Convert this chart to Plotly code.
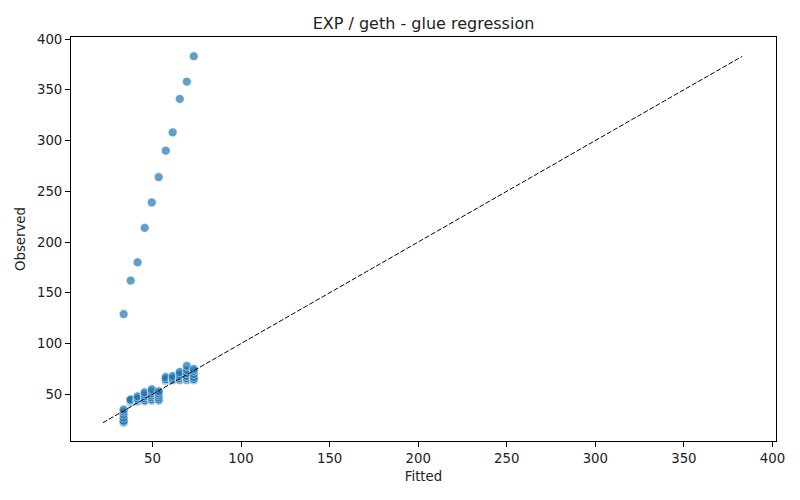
"""
fitted vs observed scatter for the glue regression
"""
import plotly.graph_objects as go

# fitted value levels (one per column of points)
fitted_levels = [33.7, 37.7, 41.6, 45.6, 49.6, 53.5, 57.5, 61.4, 65.4, 69.4, 73.3]

# observed values for each fitted level
outlier_obs = [129, 162, 180, 214, 239, 264, 290, 308, 341, 358, 383]
cluster_obs = [
    [22, 23, 23, 23, 24, 27, 30, 33, 35],
    [42, 43, 44, 44, 44, 45],
    [43, 43, 44, 44, 45, 46, 48],
    [43, 44, 44, 44, 46, 48, 50, 52],
    [44, 44, 45, 45, 47, 49, 51, 53, 55],
    [44, 44, 45, 45, 47, 49, 51, 53],
    [63, 64, 64, 65, 65, 67],
    [64, 64, 65, 66, 68],
    [64, 64, 65, 66, 68, 70, 72],
    [64, 64, 65, 66, 68, 71, 74, 78],
    [64, 64, 65, 65, 67, 70, 73, 75],
]

x_ticks = [50, 100, 150, 200, 250, 300, 350, 400]
y_ticks = [50, 100, 150, 200, 250, 300, 350, 400]

fitted, observed = [], []
for lvl, obs in zip(fitted_levels, cluster_obs):
    for o in obs:
        fitted.append(lvl)
        observed.append(o)
for lvl, o in zip(fitted_levels, outlier_obs):
    fitted.append(lvl)
    observed.append(o)

lo = min(min(fitted), min(observed))
hi = max(max(fitted), max(observed))

font = "DejaVu Sans"

fig = go.Figure()
fig.add_trace(go.Scatter(
    x=fitted, y=observed, mode="markers",
    marker=dict(color="#1f77b4", opacity=0.7, size=9,
                line=dict(color="white", width=0.7)),
    showlegend=False,
))
fig.add_trace(go.Scatter(
    x=[lo, hi], y=[lo, hi], mode="lines",
    line=dict(color="black", width=1, dash="5px,2px"),
    showlegend=False,
))

axis_style = dict(showgrid=False, zeroline=False, showline=True, mirror=True,
                  linecolor="black", linewidth=1, ticks="outside", ticklen=5,
                  tickcolor="black", automargin=False,
                  tickfont=dict(size=13.3, color="#222"),
                  title_font=dict(size=13.3, color="#222"))
# the page body adds an 8px offset, margins below account for it
fig.update_layout(
    width=800, height=500,
    margin=dict(l=63, r=32, t=29, b=67),
    paper_bgcolor="white", plot_bgcolor="white",
    font=dict(family=font),
    title=dict(text="EXP / geth - glue regression", xref="paper", x=0.5,
               xanchor="center", y=1 - 15 / 500, yanchor="middle",
               automargin=False, font=dict(size=16, color="#222")),
    xaxis=dict(axis_style, range=[4, 402], tickvals=x_ticks,
               title=dict(text="Fitted", standoff=6)),
    yaxis=dict(axis_style, range=[4, 402], tickvals=y_ticks,
               title=dict(text="Observed", standoff=8)),
)

fig.write_html("out.html")
